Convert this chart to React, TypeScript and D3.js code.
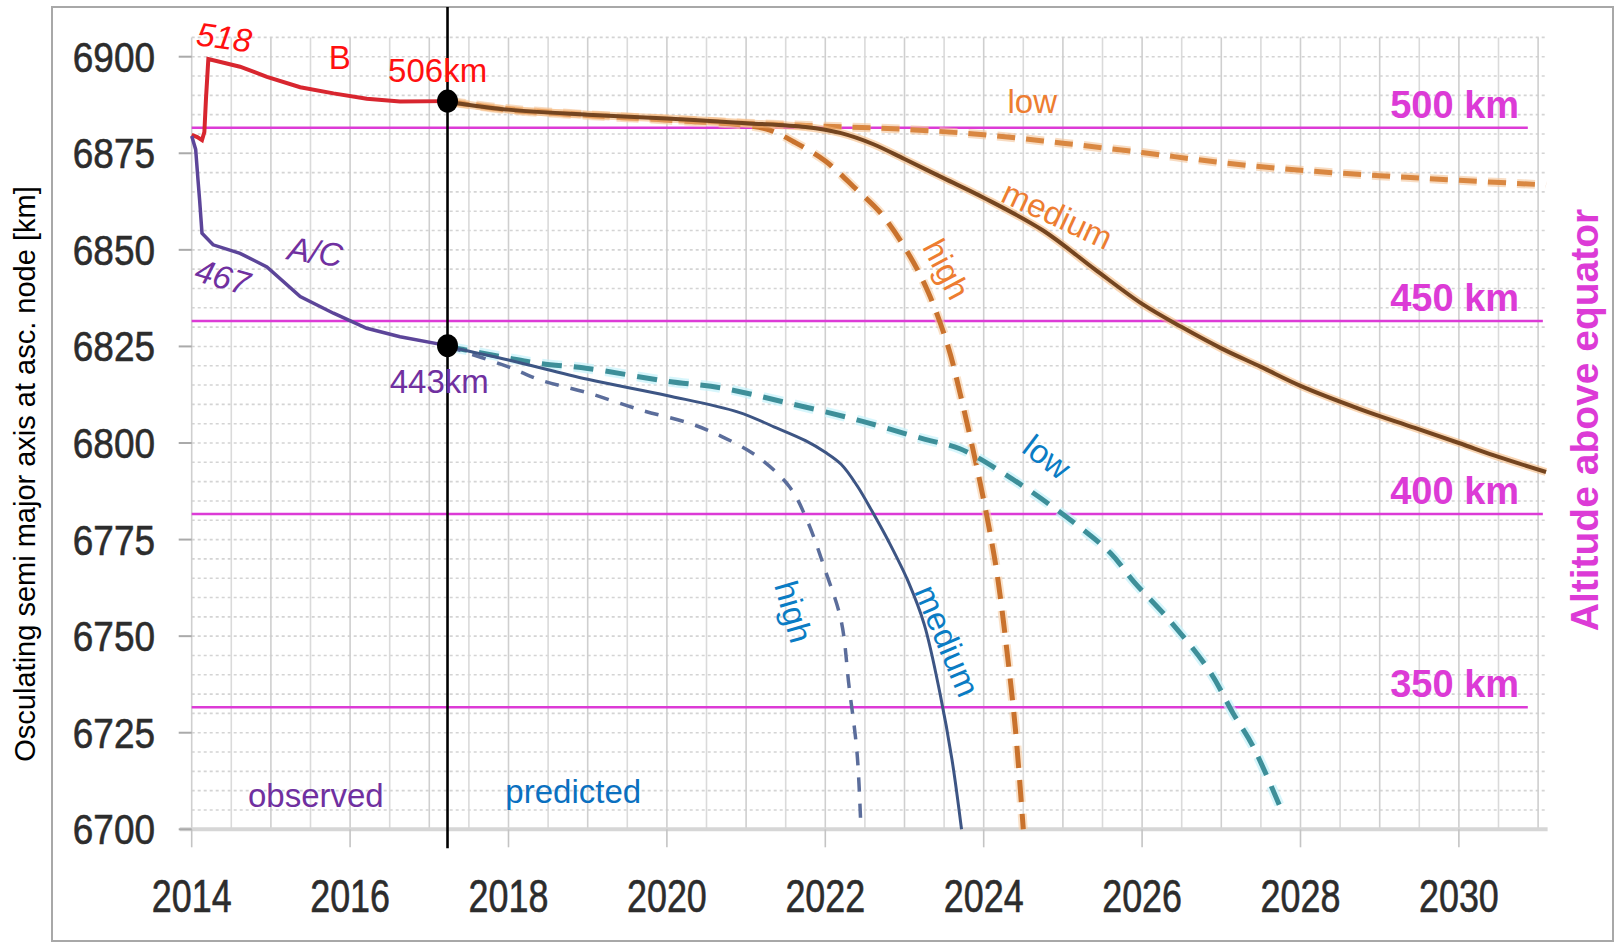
import * as d3 from 'd3';

const W = 1616;
const H = 944;

// axis ticks
const yearTicks = [2014, 2016, 2018, 2020, 2022, 2024, 2026, 2028, 2030];
const valueTicks = [6700, 6725, 6750, 6775, 6800, 6825, 6850, 6875, 6900];

// altitude reference lines (km above equator)
const EARTH_R = 6381.6;
const altitudes = [500, 450, 400, 350];
const altitudeLineEnds = [2030.87, 2031.06, 2031.06, 2030.87];

// observed
const bYears = [2014.0, 2014.07, 2014.13, 2014.16, 2014.18, 2014.21, 2014.61, 2014.95, 2015.37, 2015.79, 2016.21, 2016.63, 2017.23];
const bValues = [6879.8, 6879.2, 6878.4, 6880.5, 6889, 6899.4, 6897.4, 6894.8, 6892.1, 6890.5, 6889.1, 6888.4, 6888.5];
const acYears = [2014.0, 2014.05, 2014.08, 2014.1, 2014.13, 2014.27, 2014.61, 2014.95, 2015.37, 2015.79, 2016.21, 2016.63, 2017.23];
const acValues = [6879.5, 6876, 6868, 6862.9, 6854.3, 6851.3, 6849.1, 6845.6, 6837.9, 6833.6, 6829.7, 6827.5, 6825.2];

// predicted, B
const bLowYears = [2017.23, 2018, 2019, 2020, 2021, 2022, 2023, 2024, 2025, 2026, 2027, 2028, 2029, 2030, 2031.1];
const bLowValues = [6888.5, 6886.5, 6885, 6883.8, 6882.8, 6882, 6881.2, 6879.8, 6877.6, 6875.2, 6872.6, 6870.6, 6869.2, 6868, 6866.8];
const bMedYears = [2017.23, 2018, 2019, 2020, 2021, 2021.75, 2022.2, 2022.6, 2023, 2023.5, 2024, 2024.75, 2025.4, 2026, 2026.5, 2027, 2027.5, 2028, 2028.75, 2029.4, 2030, 2030.5, 2031.1];
const bMedValues = [6888.3, 6886.3, 6885, 6884, 6882.8, 6881.8, 6880.2, 6877.4, 6873.5, 6868.5, 6863.5, 6855, 6845, 6836, 6830, 6824.5, 6819.7, 6814.8, 6808.8, 6804.2, 6800, 6796.4, 6792.5];
const bHighYears = [2017.23, 2018, 2019, 2020, 2021, 2021.3, 2021.6, 2022, 2022.4, 2022.7, 2023.05, 2023.3, 2023.55, 2023.7, 2023.9, 2024.05, 2024.17, 2024.3, 2024.4, 2024.5];
const bHighValues = [6888.4, 6886.2, 6884.8, 6883.6, 6882.2, 6881, 6878, 6873, 6865.5, 6859.5, 6849, 6839, 6825, 6813, 6795, 6780, 6766, 6745, 6726, 6700];

// predicted, A/C
const acLowYears = [2017.23, 2018, 2018.4, 2019, 2020, 2020.7, 2021.5, 2022.4, 2023.25, 2023.7, 2024.3, 2025.1, 2025.6, 2025.9, 2026.35, 2026.85, 2027.15, 2027.4, 2027.78];
const acLowValues = [6825, 6822, 6820.6, 6819.3, 6816, 6814.2, 6810.5, 6806, 6801, 6798.5, 6791.5, 6780, 6771.5, 6764, 6754, 6741, 6730, 6721.5, 6704];
const acMedYears = [2017.23, 2018, 2019, 2020, 2020.9, 2021.35, 2021.75, 2022.0, 2022.2, 2022.4, 2022.6, 2022.8, 2023.05, 2023.25, 2023.45, 2023.6, 2023.72];
const acMedValues = [6825, 6821.5, 6816.5, 6812.3, 6808, 6804.2, 6800.6, 6797.6, 6794.5, 6789, 6782, 6774.5, 6764, 6753, 6735, 6718, 6700];
const acHighYears = [2017.23, 2018, 2018.4, 2019, 2019.66, 2020.3, 2020.7, 2021.15, 2021.55, 2021.77, 2022, 2022.2, 2022.3, 2022.4, 2022.45];
const acHighValues = [6825, 6819.7, 6816.3, 6813, 6808.6, 6805, 6801.6, 6796.4, 6788.6, 6780, 6767, 6754, 6737, 6720, 6700];

const NOW_YEAR = 2017.23;

const x = d3.scaleLinear().domain([2014, 2031]).range([191.7, 191.7 + 17 * 79.2]);
const y = d3.scaleLinear().domain([6700, 6900]).range([829.3, 56.7]);
const X_END = 2031.12;
const Y_TOP = 6905;

const zip = (xs: number[], ys: number[]) => xs.map((v, i) => [v, ys[i]] as [number, number]);

const smooth = d3.line<[number, number]>().x((d) => x(d[0])).y((d) => y(d[1])).curve(d3.curveCatmullRom.alpha(0.5));
const straight = d3.line<[number, number]>().x((d) => x(d[0])).y((d) => y(d[1]));

const FONT = 'Liberation Sans, Arial, sans-serif';
const MAGENTA = '#dc3bd6';

type Note = { text: string; yr: number; v: number; color: string; rot?: number; italic?: boolean };
const notes: Note[] = [
  { text: '518', yr: 2014.41, v: 6905, color: '#ff1010', rot: 8, italic: true },
  { text: 'B', yr: 2015.87, v: 6899.9, color: '#ff1010' },
  { text: 'A/C', yr: 2015.56, v: 6849.5, color: '#7030a0', rot: 8, italic: true },
  { text: '467', yr: 2014.39, v: 6843, color: '#7030a0', rot: 16, italic: true },
  { text: 'medium', yr: 2024.93, v: 6859, color: '#ed7d31', rot: 25 },
  { text: 'high', yr: 2023.53, v: 6845, color: '#ed7d31', rot: 62 },
  { text: 'low', yr: 2024.8, v: 6796.4, color: '#0a7cc4', rot: 37 },
  { text: 'high', yr: 2021.6, v: 6756.3, color: '#0a7cc4', rot: 74 },
  { text: 'medium', yr: 2023.54, v: 6748.8, color: '#0a7cc4', rot: 67 },
];

const plainNotes: Note[] = [
  { text: '506km', yr: 2016.48, v: 6893.4, color: '#ff1010' },
  { text: '443km', yr: 2016.5, v: 6812.9, color: '#7030a0' },
  { text: 'observed', yr: 2014.71, v: 6705.8, color: '#7030a0' },
  { text: 'predicted', yr: 2017.96, v: 6706.8, color: '#0a70c0' },
  { text: 'low', yr: 2024.3, v: 6885.4, color: '#ed7d31' },
];

export default function App() {
  const halfYears = d3.range(2014, X_END, 0.5);
  const fiveKm = d3.range(6700, Y_TOP + 0.1, 5);

  return (
    <svg width={W} height={H} style={{ position: 'absolute', left: 0, top: 0, background: '#fff' }}>
      <rect x={0} y={0} width={W} height={H} fill="#fff" />
      {/* frame */}
      <rect x={52} y={7} width={1561} height={934} fill="#fff" stroke="#a8a8a8" strokeWidth={2} />

      {/* grid */}
      <g>
        {fiveKm.map((v) => (
          <line key={`h${v}`} x1={x(2014)} x2={x(X_END)} y1={y(v)} y2={y(v)} stroke="#d4d4d4" strokeWidth={1.6} strokeDasharray="3,3" />
        ))}
        {halfYears.map((t) => (
          <line key={`v${t}`} x1={x(t)} x2={x(t)} y1={y(Y_TOP)} y2={y(6700)} stroke={t % 1 === 0 ? '#cfcfcf' : '#dadada'} strokeWidth={1.6} />
        ))}
        <line x1={x(2014) - 12} x2={x(X_END)} y1={y(6700)} y2={y(6700)} stroke="#d6d6d6" strokeWidth={4} />
        {yearTicks.map((t) => (
          <line key={`xt${t}`} x1={x(t)} x2={x(t)} y1={y(6700)} y2={y(6700) + 18} stroke="#c4c4c4" strokeWidth={1.6} />
        ))}
        {valueTicks.map((v) => (
          <line key={`yt${v}`} x1={x(2014) - 13} x2={x(2014)} y1={y(v)} y2={y(v)} stroke="#aaa" strokeWidth={2} />
        ))}
      </g>

      {/* tick labels */}
      <g fontFamily={FONT} fill="#2c2c2c">
        {yearTicks.map((t) => (
          <text key={`xl${t}`} transform={`translate(${x(t)},912) scale(0.78,1)`} textAnchor="middle" fontSize={46} stroke="#2c2c2c" strokeWidth={0.6}>
            {t}
          </text>
        ))}
        {valueTicks.map((v) => (
          <text key={`yl${v}`} transform={`translate(155,${y(v) + 15}) scale(0.88,1)`} textAnchor="end" fontSize={42} stroke="#2c2c2c" strokeWidth={0.6}>
            {v}
          </text>
        ))}
      </g>

      {/* axis titles */}
      <text transform={`translate(35,474) rotate(-90)`} textAnchor="middle" fontFamily={FONT} fontSize={29} fill="#000">
        Osculating semi major axis at asc. node [km]
      </text>
      <text transform={`translate(1598,420) rotate(-90)`} textAnchor="middle" fontFamily={FONT} fontSize={39} fontWeight="bold" fill={MAGENTA}>
        Altitude above equator
      </text>

      {/* altitude lines */}
      {altitudes.map((a, i) => (
        <g key={`alt${a}`}>
          <line x1={x(2014)} x2={x(altitudeLineEnds[i])} y1={y(EARTH_R + a)} y2={y(EARTH_R + a)} stroke={MAGENTA} strokeWidth={2.5} />
          <text x={x(2030.76)} y={y(EARTH_R + a) - 10} textAnchor="end" fontFamily={FONT} fontWeight="bold" fontSize={38} fill={MAGENTA}>
            {a} km
          </text>
        </g>
      ))}

      {/* predicted B */}
      <path d={smooth(zip(bLowYears, bLowValues)) ?? ''} fill="none" stroke="#f3c49a" strokeWidth={9} strokeDasharray="18,11" opacity={0.6} />
      <path d={smooth(zip(bLowYears, bLowValues)) ?? ''} fill="none" stroke="#d98741" strokeWidth={5} strokeDasharray="18,11" />
      <path d={smooth(zip(bHighYears, bHighValues)) ?? ''} fill="none" stroke="#f7cfa6" strokeWidth={9} strokeDasharray="22,12" opacity={0.6} />
      <path d={smooth(zip(bHighYears, bHighValues)) ?? ''} fill="none" stroke="#c9722d" strokeWidth={5} strokeDasharray="22,12" />
      <path d={smooth(zip(bMedYears, bMedValues)) ?? ''} fill="none" stroke="#f6b678" strokeWidth={8} opacity={0.55} />
      <path d={smooth(zip(bMedYears, bMedValues)) ?? ''} fill="none" stroke="#744520" strokeWidth={4} />

      {/* predicted A/C */}
      <path d={smooth(zip(acLowYears, acLowValues)) ?? ''} fill="none" stroke="#c6f2fb" strokeWidth={10} strokeDasharray="20,12" opacity={0.7} />
      <path d={smooth(zip(acLowYears, acLowValues)) ?? ''} fill="none" stroke="#3d8f99" strokeWidth={5} strokeDasharray="20,12" />
      <path d={smooth(zip(acHighYears, acHighValues)) ?? ''} fill="none" stroke="#5b6d9b" strokeWidth={3.5} strokeDasharray="14,12" />
      <path d={smooth(zip(acMedYears, acMedValues)) ?? ''} fill="none" stroke="#3d5584" strokeWidth={3} />

      {/* observed */}
      <path d={straight(zip(bYears, bValues)) ?? ''} fill="none" stroke="#d8262f" strokeWidth={4} />
      <path d={straight(zip(acYears, acValues)) ?? ''} fill="none" stroke="#5c4599" strokeWidth={3.5} />

      {/* now marker */}
      <line x1={x(NOW_YEAR)} x2={x(NOW_YEAR)} y1={7} y2={y(6700) + 19} stroke="#000" strokeWidth={2.6} />
      <ellipse cx={x(NOW_YEAR)} cy={y(bValues[bValues.length - 1])} rx={10.5} ry={11.5} fill="#000" />
      <ellipse cx={x(NOW_YEAR)} cy={y(acValues[acValues.length - 1])} rx={10.5} ry={11.5} fill="#000" />

      {/* annotations */}
      <g fontFamily={FONT} fontSize={33}>
        {notes.map((n, i) => (
          <text
            key={`n${i}`}
            transform={`translate(${x(n.yr)},${y(n.v)}) rotate(${n.rot ?? 0})`}
            textAnchor="middle"
            dominantBaseline="central"
            fill={n.color}
            fontStyle={n.italic ? 'italic' : 'normal'}
          >
            {n.text}
          </text>
        ))}
        {plainNotes.map((n, i) => (
          <text key={`p${i}`} x={x(n.yr)} y={y(n.v)} fill={n.color}>
            {n.text}
          </text>
        ))}
      </g>
    </svg>
  );
}
